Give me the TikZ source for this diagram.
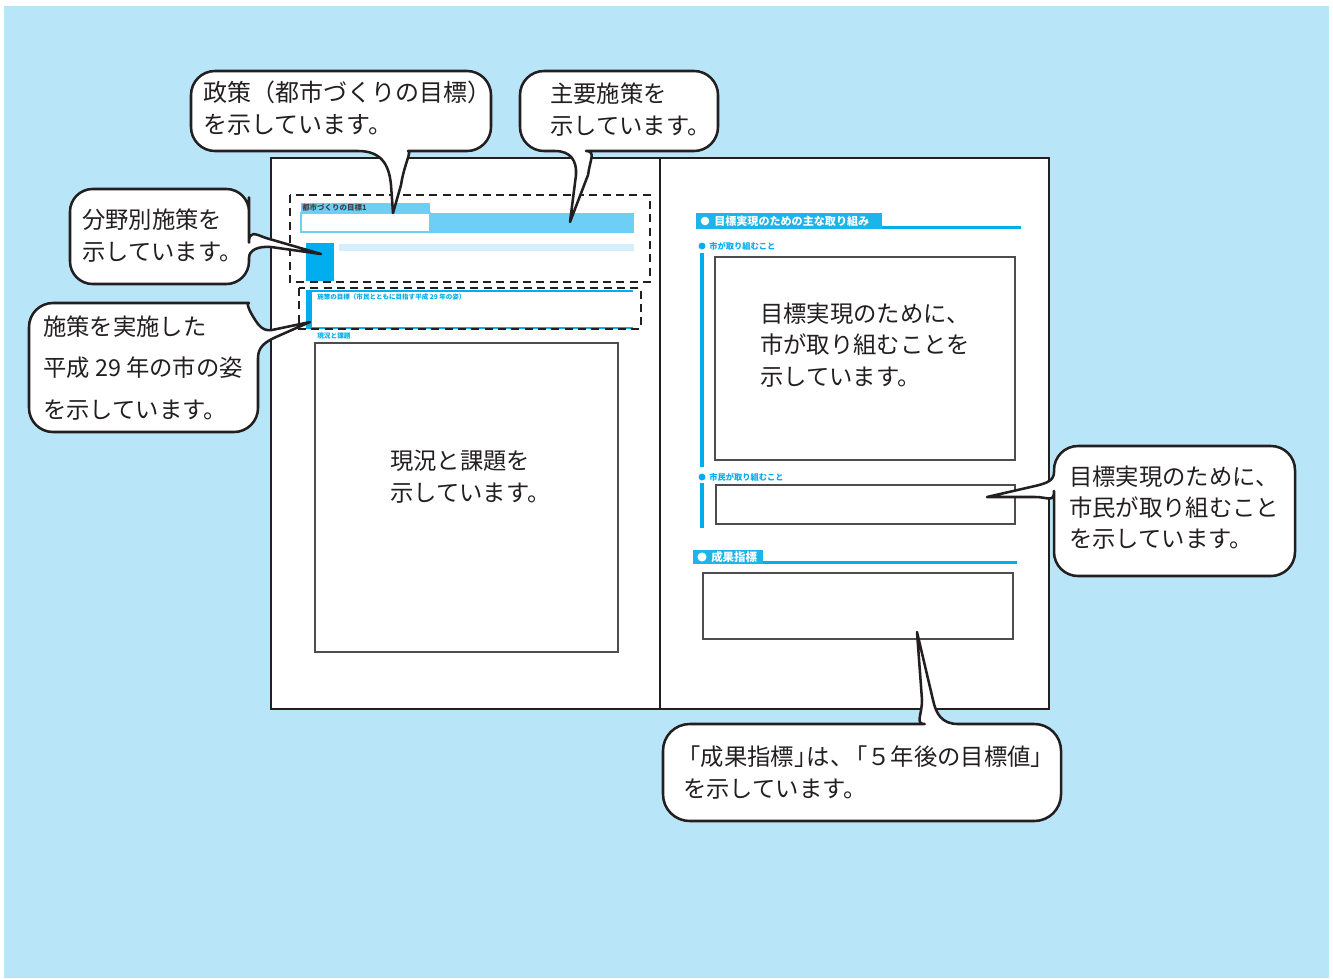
\documentclass[tikz,border=0pt]{standalone}
\usepackage{fontspec}
\setmainfont{Noto Sans CJK JP}
\definecolor{bg}{HTML}{B9E5F8}
\definecolor{ink}{HTML}{231F20}
\definecolor{cy}{HTML}{00AEEF}
\definecolor{hcy}{HTML}{1CB4EA}
\definecolor{lcy}{HTML}{6DCFF6}
\definecolor{pcy}{HTML}{D5EEFB}
\definecolor{gbox}{HTML}{4D4D4D}
\tikzset{
  pageframe/.style={draw=ink, line width=1.9pt, fill=white},
  dashbox/.style={draw=ink, line width=1.5pt, dash pattern=on 6pt off 4pt},
  graybox/.style={draw=gbox, line width=1pt, fill=white},
  bubble/.style={draw=ink, line width=1.9pt, fill=white, line join=round},
  btext/.style={anchor=west, align=left, text=ink, inner sep=0pt, font=\fontsize{17.5}{24}\selectfont},
  tiny/.style={anchor=west, inner sep=0pt, font=\bfseries\fontsize{5}{6}\selectfont},
  label/.style={anchor=west, inner sep=0pt, text=cy, font=\bfseries\fontsize{6.2}{7}\selectfont},
  head/.style={anchor=west, inner sep=0pt, text=white, font=\bfseries\fontsize{8.3}{9}\selectfont},
}
\begin{document}
\begin{tikzpicture}[x=0.75pt,y=-0.75pt]
\useasboundingbox (0,0) rectangle (1333,978);
\fill[bg] (4,6) rectangle (1329,978);

% book
\draw[pageframe] (271,158) rectangle (1049,709);
\draw[draw=ink, line width=1.9pt] (660,158) -- (660,709);

% ---- left page ----
\fill[lcy] (301,203) rectangle (430,213);
\node[tiny, text=ink!85, font=\bfseries\fontsize{5.6}{6}\selectfont] (lbl1) at (302,208) {都市づくりの目標1};
\draw[draw=lcy, line width=0.8pt, fill=white] (301,213) rectangle (430,232);
\fill[lcy] (430,213) rectangle (634,233);
\fill[cy] (306,243) rectangle (334,281);
\fill[pcy] (339,244) rectangle (634,251);
\draw[dashbox] (290,195) rectangle (650,282);

\draw[cy, line width=1.4pt] (306,291) -- (633,291);
\draw[cy, line width=1.4pt] (306,328) -- (633,328);
\fill[cy] (306,291) rectangle (312,328);
\node[tiny, text=cy, font=\bfseries\fontsize{4.9}{5}\selectfont] (lbl2) at (317,297) {施策の目標（市民とともに目指す平成 29 年の姿）};
\draw[dashbox] (299,288) rectangle (641,329);

\node[tiny, text=cy] (lbl3) at (317,336) {現況と課題};
\draw[graybox] (315,343) rectangle (618,652);
\node[btext] (t1) at (390,477) {現況と課題を\\示しています。};

% ---- right page ----
\fill[hcy] (696,213) rectangle (882,229);
\fill[cy] (882,225.5) rectangle (1021,229);
\fill[white] (705,221) circle[radius=3.2pt];
\node[head] (h1) at (714,221) {目標実現のための主な取り組み};

\fill[cy] (702,246) circle[radius=2.6pt];
\node[label] (l1) at (709,246) {市が取り組むこと};
\fill[cy] (700,253) rectangle (704,467);
\draw[graybox] (715,257) rectangle (1015,460);
\node[btext, font=\fontsize{17.5}{23.6}\selectfont] (t2) at (760,345) {目標実現のために、\\市が取り組むことを\\示しています。};

\fill[cy] (702,477) circle[radius=2.6pt];
\node[label] (l2) at (709,477) {市民が取り組むこと};
\fill[cy] (700,483) rectangle (704,528);
\draw[graybox] (716,485) rectangle (1015,524);

\fill[hcy] (693,550) rectangle (763,564);
\fill[cy] (763,560.5) rectangle (1017,564);
\fill[white] (702,557) circle[radius=3.4pt];
\node[head, font=\bfseries\fontsize{8.6}{9}\selectfont] (h2) at (711,557) {成果指標};
\draw[graybox] (703,573) rectangle (1013,639);

% ---- bubbles ----
% A
\draw[bubble, rounded corners=18pt] (300,71) -- (491,71) -- (491,151) -- (432,151)
  [sharp corners] .. controls (412,151) and (404,165) .. (401,185) -- (393,213) -- (391,185)
  .. controls (389,163) and (380,151) .. (358,151)
  [rounded corners=18pt] -- (191,151) -- (191,71) -- cycle;
\node[btext, font=\fontsize{18}{24}\selectfont] (bA) at (203,108) {政策（都市づくりの目標）\\を示しています。};

% B
\draw[bubble, rounded corners=18pt] (620,71) -- (718,71) -- (718,151) -- (610,151)
  [sharp corners] .. controls (596,151) and (590,160) .. (588,175) -- (570,222) -- (576,175)
  .. controls (577,160) and (570,151) .. (555,151)
  [rounded corners=18pt] -- (520,151) -- (520,71) -- cycle;
\node[btext] (bB) at (550,110) {主要施策を\\示しています。};

% C
\draw[bubble, rounded corners=17pt] (160,189) -- (249,189) -- (249,220)
  [sharp corners] .. controls (249,230) and (255,234) .. (266,238) -- (321,254) -- (271,247)
  .. controls (258,246) and (249,250) .. (249,258)
  [rounded corners=17pt] -- (249,284) -- (70,284) -- (70,189) -- cycle;
\node[btext] (bC) at (82,236) {分野別施策を\\示しています。};

% D
\draw[bubble, rounded corners=18pt] (140,303) -- (225,303)
  [sharp corners] .. controls (245,303) and (252,316) .. (258,324)
  .. controls (262,329) and (266,331) .. (272,330) -- (310,322) -- (276,337)
  .. controls (265,342) and (258,347) .. (258,358)
  [rounded corners=18pt] -- (258,432) -- (29,432) -- (29,303) -- cycle;
\node[btext, font=\fontsize{17.5}{31}\selectfont] (bD) at (43,368) {施策を実施した\\平成 29 年の市の姿\\を示しています。};

% E
\draw[bubble, rounded corners=18pt] (1150,446) -- (1295,446) -- (1295,576) -- (1054,576) -- (1054,515)
  [sharp corners] .. controls (1054,503) and (1048,497) .. (1035,497) -- (987,497) -- (1035,486)
  .. controls (1048,483) and (1054,480) .. (1054,472)
  [rounded corners=18pt] -- (1054,446) -- cycle;
\node[btext, font=\fontsize{17.5}{23.3}\selectfont] (bE) at (1069,508) {目標実現のために、\\市民が取り組むこと\\を示しています。};

% F
\draw[bubble, rounded corners=20pt] (760,724) -- (898,724)
  [sharp corners] .. controls (915,724) and (922,715) .. (922,700) -- (917,632) -- (933,700)
  .. controls (936,714) and (942,724) .. (958,724)
  [rounded corners=20pt] -- (1061,724) -- (1061,821) -- (663,821) -- (663,724) -- cycle;
\node[btext] (bF) at (683,773) {\kern-0.25em「成果指標」\kern-0.45em は、\kern-0.4em「５年後の目標値」\\を示しています。};
\end{tikzpicture}
\end{document}
